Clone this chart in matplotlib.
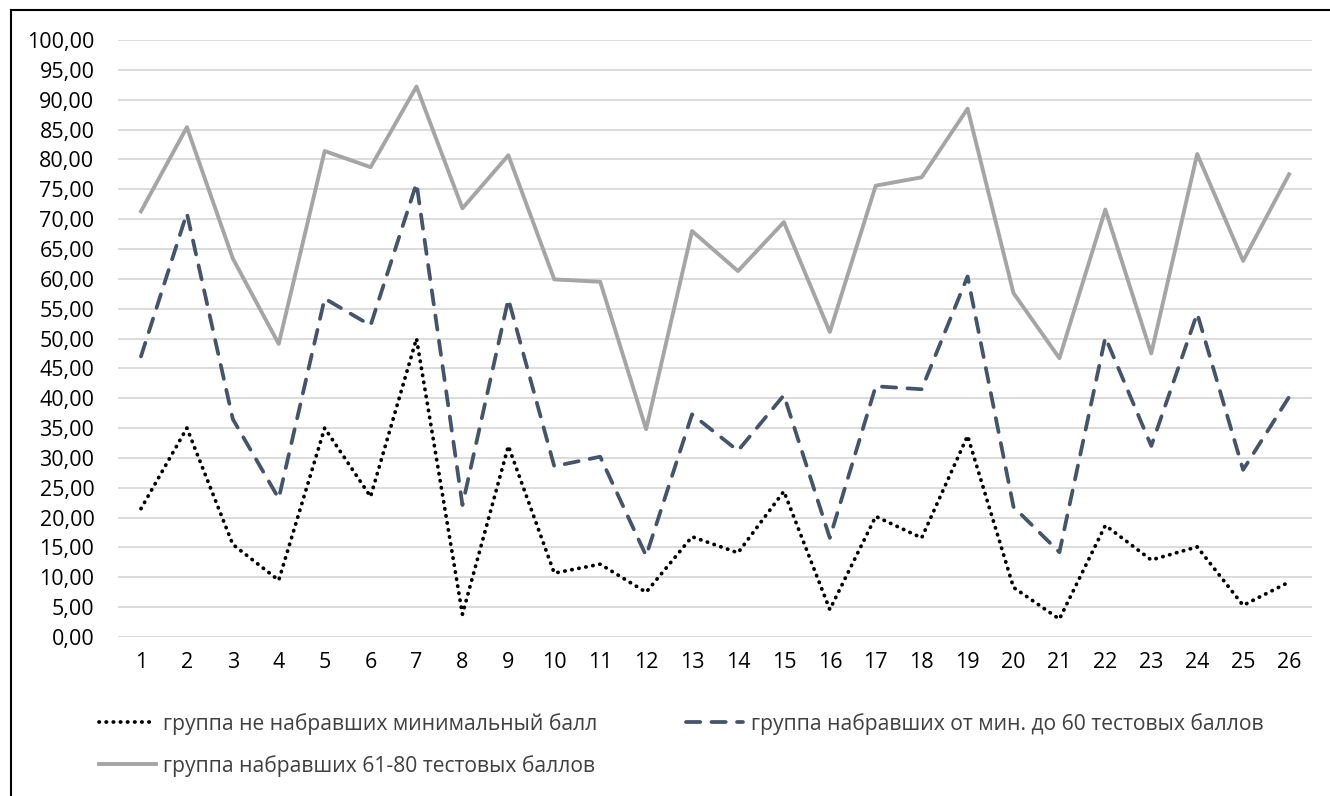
import matplotlib
matplotlib.use("Agg")
import matplotlib.pyplot as plt
from matplotlib.lines import Line2D

plt.rcParams["font.family"] = ["Open Sans", "DejaVu Sans"]

categories = list(range(1, 27))

# группа не набравших минимальный балл
below_min = [21.5, 35.0, 15.5, 9.5, 35.0, 23.5, 50.0, 3.8, 32.0, 10.7,
             12.2, 7.5, 16.8, 14.1, 24.4, 4.6, 20.2, 16.6, 33.7, 8.3,
             3.0, 18.7, 12.9, 15.1, 5.3, 9.2]
# группа набравших от мин. до 60 тестовых баллов
min_to_60 = [47.0, 71.0, 36.5, 23.2, 56.7, 52.2, 76.0, 22.1, 56.6, 28.6,
             30.2, 13.6, 37.3, 31.2, 40.5, 16.6, 42.0, 41.5, 60.4, 21.8,
             14.2, 50.2, 32.0, 54.2, 28.0, 40.2]
# группа набравших 61-80 тестовых баллов
from_61_to_80 = [71.3, 85.4, 63.4, 49.1, 81.4, 78.7, 92.2, 71.8, 80.7, 59.9,
                 59.5, 34.8, 68.0, 61.3, 69.5, 51.1, 75.6, 77.0, 88.5, 57.6,
                 46.7, 71.6, 47.5, 80.9, 63.0, 77.5]

labels = ["группа не набравших минимальный балл",
          "группа набравших от мин. до 60 тестовых баллов",
          "группа набравших 61-80 тестовых баллов"]

y_ticks = list(range(0, 101, 5))

fig = plt.figure(figsize=(13.3, 7.96), dpi=100)
ax = fig.add_axes([118 / 1330, 159 / 796, 1194 / 1330, 597 / 796])

l1, = ax.plot(categories, below_min, color="black", lw=2.7,
              linestyle=(0, (0.1, 1.8)), dash_capstyle="round")
l2, = ax.plot(categories, min_to_60, color="#44546a", lw=2.7,
              linestyle=(0, (3.8, 3.0)), dash_capstyle="round")
l3, = ax.plot(categories, from_61_to_80, color="#a5a5a5", lw=2.8)

ax.set_xlim(0.5, 26.5)
ax.set_ylim(0, 100)
ax.set_yticks(y_ticks)
ax.set_yticklabels([f"{v:.2f}".replace(".", ",") for v in y_ticks])
ax.set_xticks(categories)
ax.set_xticklabels([str(c) for c in categories])
ax.tick_params(length=0, labelsize=15.5, colors="#000000")
ax.tick_params(axis="x", pad=11)
ax.tick_params(axis="y", pad=17)
ax.grid(axis="y", color="#d9d9d9", lw=1.3)
ax.set_axisbelow(True)
for s in ax.spines.values():
    s.set_visible(False)

# frame of the chart area (left and top only are visible)
fig.add_artist(Line2D([11 / 1330, 11 / 1330], [0, 786 / 796],
                      color="black", lw=1.5))
fig.add_artist(Line2D([11 / 1330, 1], [786 / 796, 786 / 796],
                      color="black", lw=1.5))

fig.legend([l1, l3, l2], [labels[0], labels[2], labels[1]], ncol=2,
           loc="upper left", bbox_to_anchor=(80 / 1330, 102 / 796),
           frameon=False, fontsize=15.2, handlelength=2.7,
           handletextpad=0.35, columnspacing=4.2, labelspacing=0.95,
           labelcolor="#404040")

fig.savefig("out.png", dpi=100)
